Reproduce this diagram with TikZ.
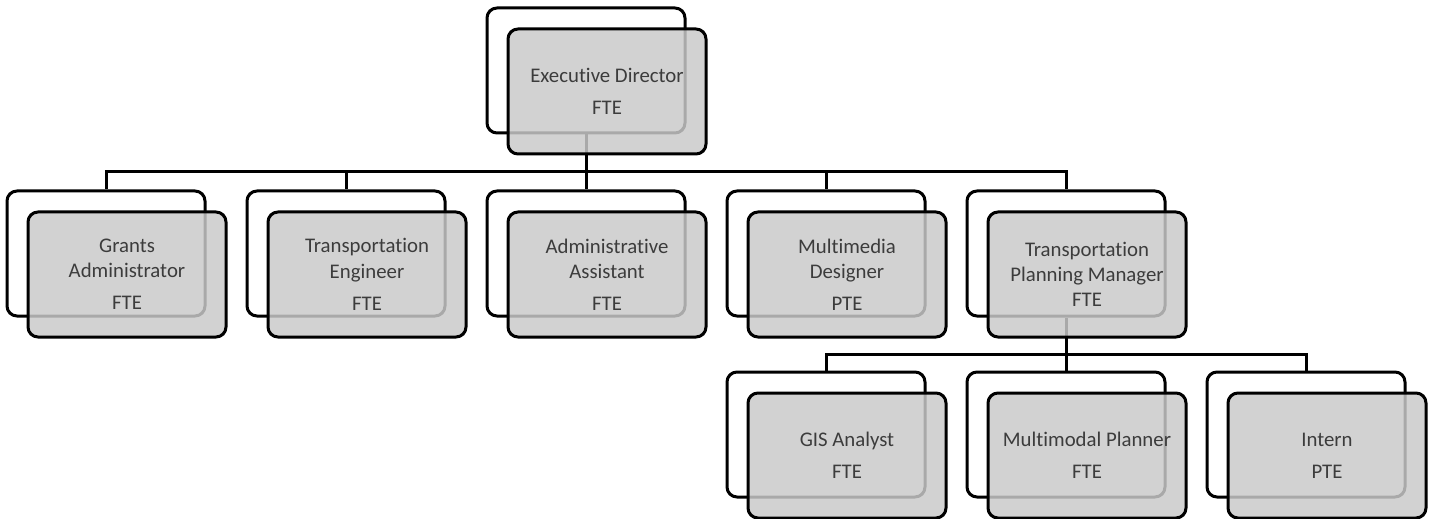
\documentclass[tikz,border=0pt]{standalone}
\usepackage{fontspec}
\setmainfont{Carlito}[Ligatures=NoCommon]
\definecolor{boxgray}{RGB}{202,202,202}
\definecolor{txtgray}{RGB}{60,60,60}
\begin{document}
\begin{tikzpicture}[x=0.5pt,y=-0.5pt,
  backbox/.style={draw=black, line width=1.5pt, rounded corners=5pt, fill=white,
    minimum width=99pt, minimum height=62.5pt, inner sep=0pt},
  frontbox/.style={draw=black, line width=1.5pt, rounded corners=5pt, fill=boxgray,
    fill opacity=0.84, text opacity=1, minimum width=99pt, minimum height=62.5pt,
    align=center, font=\fontsize{10.4}{12.6}\selectfont, text=txtgray, inner sep=1pt},
  link/.style={draw=black, line width=1.5pt}]
\useasboundingbox[fill=white] (0,0) rectangle (1437,519);
% back boxes
\node[backbox] (edB) at (586,70.5) {};
\node[backbox] (gaB) at (106,253.5) {};
\node[backbox] (teB) at (346,253.5) {};
\node[backbox] (aaB) at (586,253.5) {};
\node[backbox] (mdB) at (826,253.5) {};
\node[backbox] (tpB) at (1066,253.5) {};
\node[backbox] (giB) at (826,434.5) {};
\node[backbox] (mpB) at (1066,434.5) {};
\node[backbox] (inB) at (1306,434.5) {};
% connectors
\coordinate (bus1) at (586,172);
\coordinate (bus2) at (1066,354);
\draw[link] (edB.south) -- (bus1) -| (gaB.north);
\draw[link] (bus1) -| (teB.north);
\draw[link] (bus1) -- (aaB.north);
\draw[link] (bus1) -| (mdB.north);
\draw[link] (bus1) -| (tpB.north);
\draw[link] (tpB.south) -- (bus2) -| (giB.north);
\draw[link] (bus2) -- (mpB.north);
\draw[link] (bus2) -| (inB.north);
% front boxes
\node[frontbox] (ed) at (607,91.5) {Executive Director\\[3.5pt]FTE};
\node[frontbox] (ga) at (127,274.5) {Grants\\Administrator\\[3.5pt]FTE};
\node[frontbox] (te) at (367,274.5) {Transportation\\Engineer\\[3.5pt]FTE};
\node[frontbox] (aa) at (607,274.5) {Administrative\\Assistant\\[3.5pt]FTE};
\node[frontbox] (md) at (847,274.5) {Multimedia\\Designer\\[3.5pt]PTE};
\node[frontbox] (tp) at (1087,274.5) {Transportation\\Planning Manager\\FTE};
\node[frontbox] (gi) at (847,455.5) {GIS Analyst\\[3.5pt]FTE};
\node[frontbox] (mp) at (1087,455.5) {Multimodal Planner\\[3.5pt]FTE};
\node[frontbox] (in) at (1327,455.5) {Intern\\[3.5pt]PTE};
\end{tikzpicture}
\end{document}
